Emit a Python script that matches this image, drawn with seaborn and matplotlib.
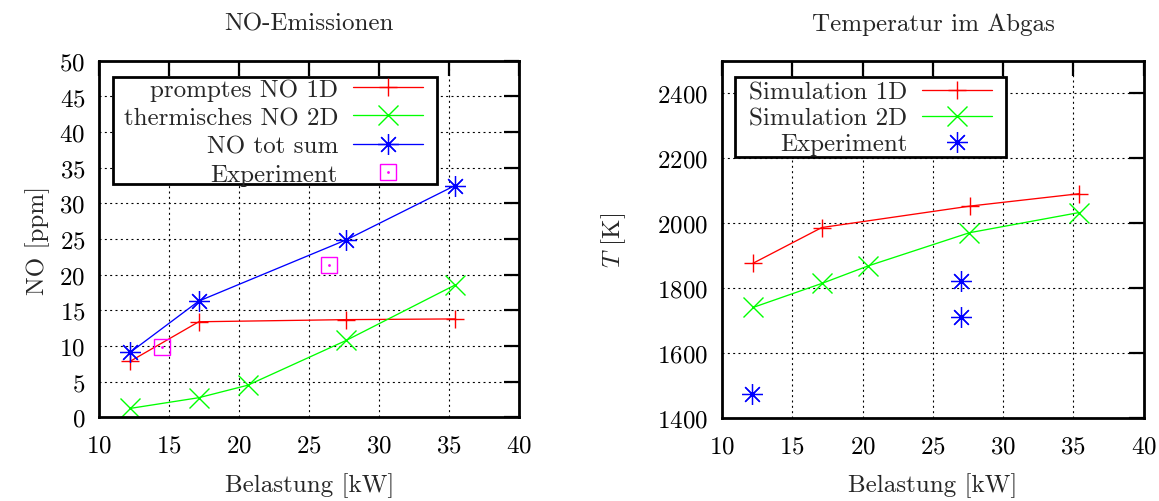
import matplotlib
matplotlib.use("Agg")
import matplotlib.pyplot as plt
from matplotlib.patches import Rectangle
import seaborn as sns
import pandas as pd

# ---------------- data ----------------
# NO emissions (left)
load_prompt = [12.2, 17.1, 27.65, 35.4]
no_prompt = [7.85, 13.4, 13.7, 13.8]
load_thermal = [12.2, 17.1, 20.6, 27.65, 35.4]
no_thermal = [1.25, 2.75, 4.5, 10.8, 18.55]
load_total = [12.2, 17.1, 27.65, 35.4]
no_total = [9.1, 16.3, 24.9, 32.5]
load_exp_no = [14.5, 26.4]
no_exp = [9.8, 21.4]

# exhaust temperature (right)
load_sim1d = [12.2, 17.1, 27.65, 35.4]
t_sim1d = [1877, 1987, 2053, 2091]
load_sim2d = [12.2, 17.1, 20.4, 27.6, 35.4]
t_sim2d = [1741, 1815, 1869, 1971, 2033]
load_exp_t = [12.1, 27.0, 27.0]
t_exp = [1475, 1822, 1712]

x_ticks = [10, 15, 20, 25, 30, 35, 40]
no_ticks = [0, 5, 10, 15, 20, 25, 30, 35, 40, 45, 50]
t_ticks = [1400, 1600, 1800, 2000, 2200, 2400]

left_labels = ["promptes NO 1D", "thermisches NO 2D", "NO tot sum", "Experiment"]
right_labels = ["Simulation 1D", "Simulation 2D", "Experiment"]

# ---------------- style ----------------
sns.set_style("white")
plt.rcParams["font.family"] = ["cmr10", "DejaVu Serif"]
plt.rcParams["mathtext.fontset"] = "cm"
plt.rcParams["axes.formatter.use_mathtext"] = True
plt.rcParams["axes.unicode_minus"] = False
FS = 18

RED, GREEN, BLUE, MAG = "#ff0000", "#00ff00", "#0000ff", "#ff00ff"
AST = (8, 2, 0)

fig = plt.figure(figsize=(11.59, 5.02), dpi=100)
axL = fig.add_axes([0.0857, 0.1667, 0.3624, 0.7102])
axR = fig.add_axes([0.6230, 0.1647, 0.3637, 0.7122])


def line(ax, x, y, color, marker, ms, ls="-", mew=1.0, **kw):
    df = pd.DataFrame({"x": x, "y": y})
    sns.lineplot(data=df, x="x", y="y", ax=ax, color=color, marker=marker,
                 markersize=ms, linewidth=0.95, linestyle=ls, estimator=None,
                 sort=False, markeredgewidth=mew, markeredgecolor=color, **kw)
    return ax.lines[-1]


def style_axes(ax, ylim, yticks):
    ax.set_xlim(10, 40)
    ax.set_ylim(*ylim)
    ax.set_xticks(x_ticks)
    ax.set_yticks(yticks)
    ax.set_axisbelow(True)
    ax.grid(True, color="black", linestyle=(0, (1.8, 3.0)), linewidth=0.8)
    for s in ax.spines.values():
        s.set_visible(True)
        s.set_color("black")
        s.set_linewidth(2.0)
    ax.tick_params(direction="in", length=11, width=1.6, top=True, right=True,
                   labelsize=FS, colors="black")
    ax.tick_params(axis="x", pad=12)
    ax.tick_params(axis="y", pad=10)
    ax.set_xlabel("Belastung [kW]", fontsize=FS)


# ---------------- left panel ----------------
h1 = line(axL, load_prompt, no_prompt, RED, "+", 13)
h2 = line(axL, load_thermal, no_thermal, GREEN, "x", 14)
h3 = line(axL, load_total, no_total, BLUE, AST, 15, mew=0.9)
h4 = line(axL, load_exp_no, no_exp, MAG, "s", 12, ls="", markerfacecolor="none")
h4b = line(axL, load_exp_no, no_exp, MAG, ".", 2, ls="")
style_axes(axL, (0, 50), no_ticks)
axL.set_ylabel("NO [ppm]", fontsize=FS)
axL.xaxis.set_label_coords(0.5, -0.155)
axL.yaxis.set_label_coords(-0.117, 0.5)
axL.add_patch(Rectangle((0.0333, 0.6544), 0.7714, 0.3002, transform=axL.transAxes,
                        facecolor="white", edgecolor="black", linewidth=2.0,
                        zorder=4.5))
legL = axL.legend([h1, h2, h3, (h4, h4b)], left_labels, loc="upper right",
                  bbox_to_anchor=(0.7707, 0.9517), frameon=False, borderpad=0,
                  markerfirst=False, handlelength=2.8, handletextpad=0.6,
                  labelspacing=0.24, fontsize=FS, borderaxespad=0)
legL.set_zorder(6)

# ---------------- right panel ----------------
r1 = line(axR, load_sim1d, t_sim1d, RED, "+", 13)
r2 = line(axR, load_sim2d, t_sim2d, GREEN, "x", 14)
r3 = line(axR, load_exp_t, t_exp, BLUE, AST, 15, ls="", mew=0.9)
style_axes(axR, (1400, 2500), t_ticks)
axR.set_ylabel(r"$T$ [K]", fontsize=FS)
axR.xaxis.set_label_coords(0.5, -0.152)
axR.yaxis.set_label_coords(-0.223, 0.5)
axR.add_patch(Rectangle((0.0308, 0.7305), 0.6430, 0.2247, transform=axR.transAxes,
                        facecolor="white", edgecolor="black", linewidth=2.0,
                        zorder=4.5))
legR = axR.legend([r1, r2, r3], right_labels, loc="upper right",
                  bbox_to_anchor=(0.6406, 0.9435), frameon=False, borderpad=0,
                  markerfirst=False, handlelength=2.8, handletextpad=0.6,
                  labelspacing=0.14, fontsize=FS, borderaxespad=0)
legR.set_zorder(6)

# ---------------- titles ----------------
fig.text(309 / 1159, 1 - 31 / 502, "NO-Emissionen", ha="center", va="baseline",
         fontsize=FS)
fig.text(933 / 1159, 1 - 31 / 502, "Temperatur im Abgas", ha="center",
         va="baseline", fontsize=FS)

fig.savefig("out.png", dpi=100)
